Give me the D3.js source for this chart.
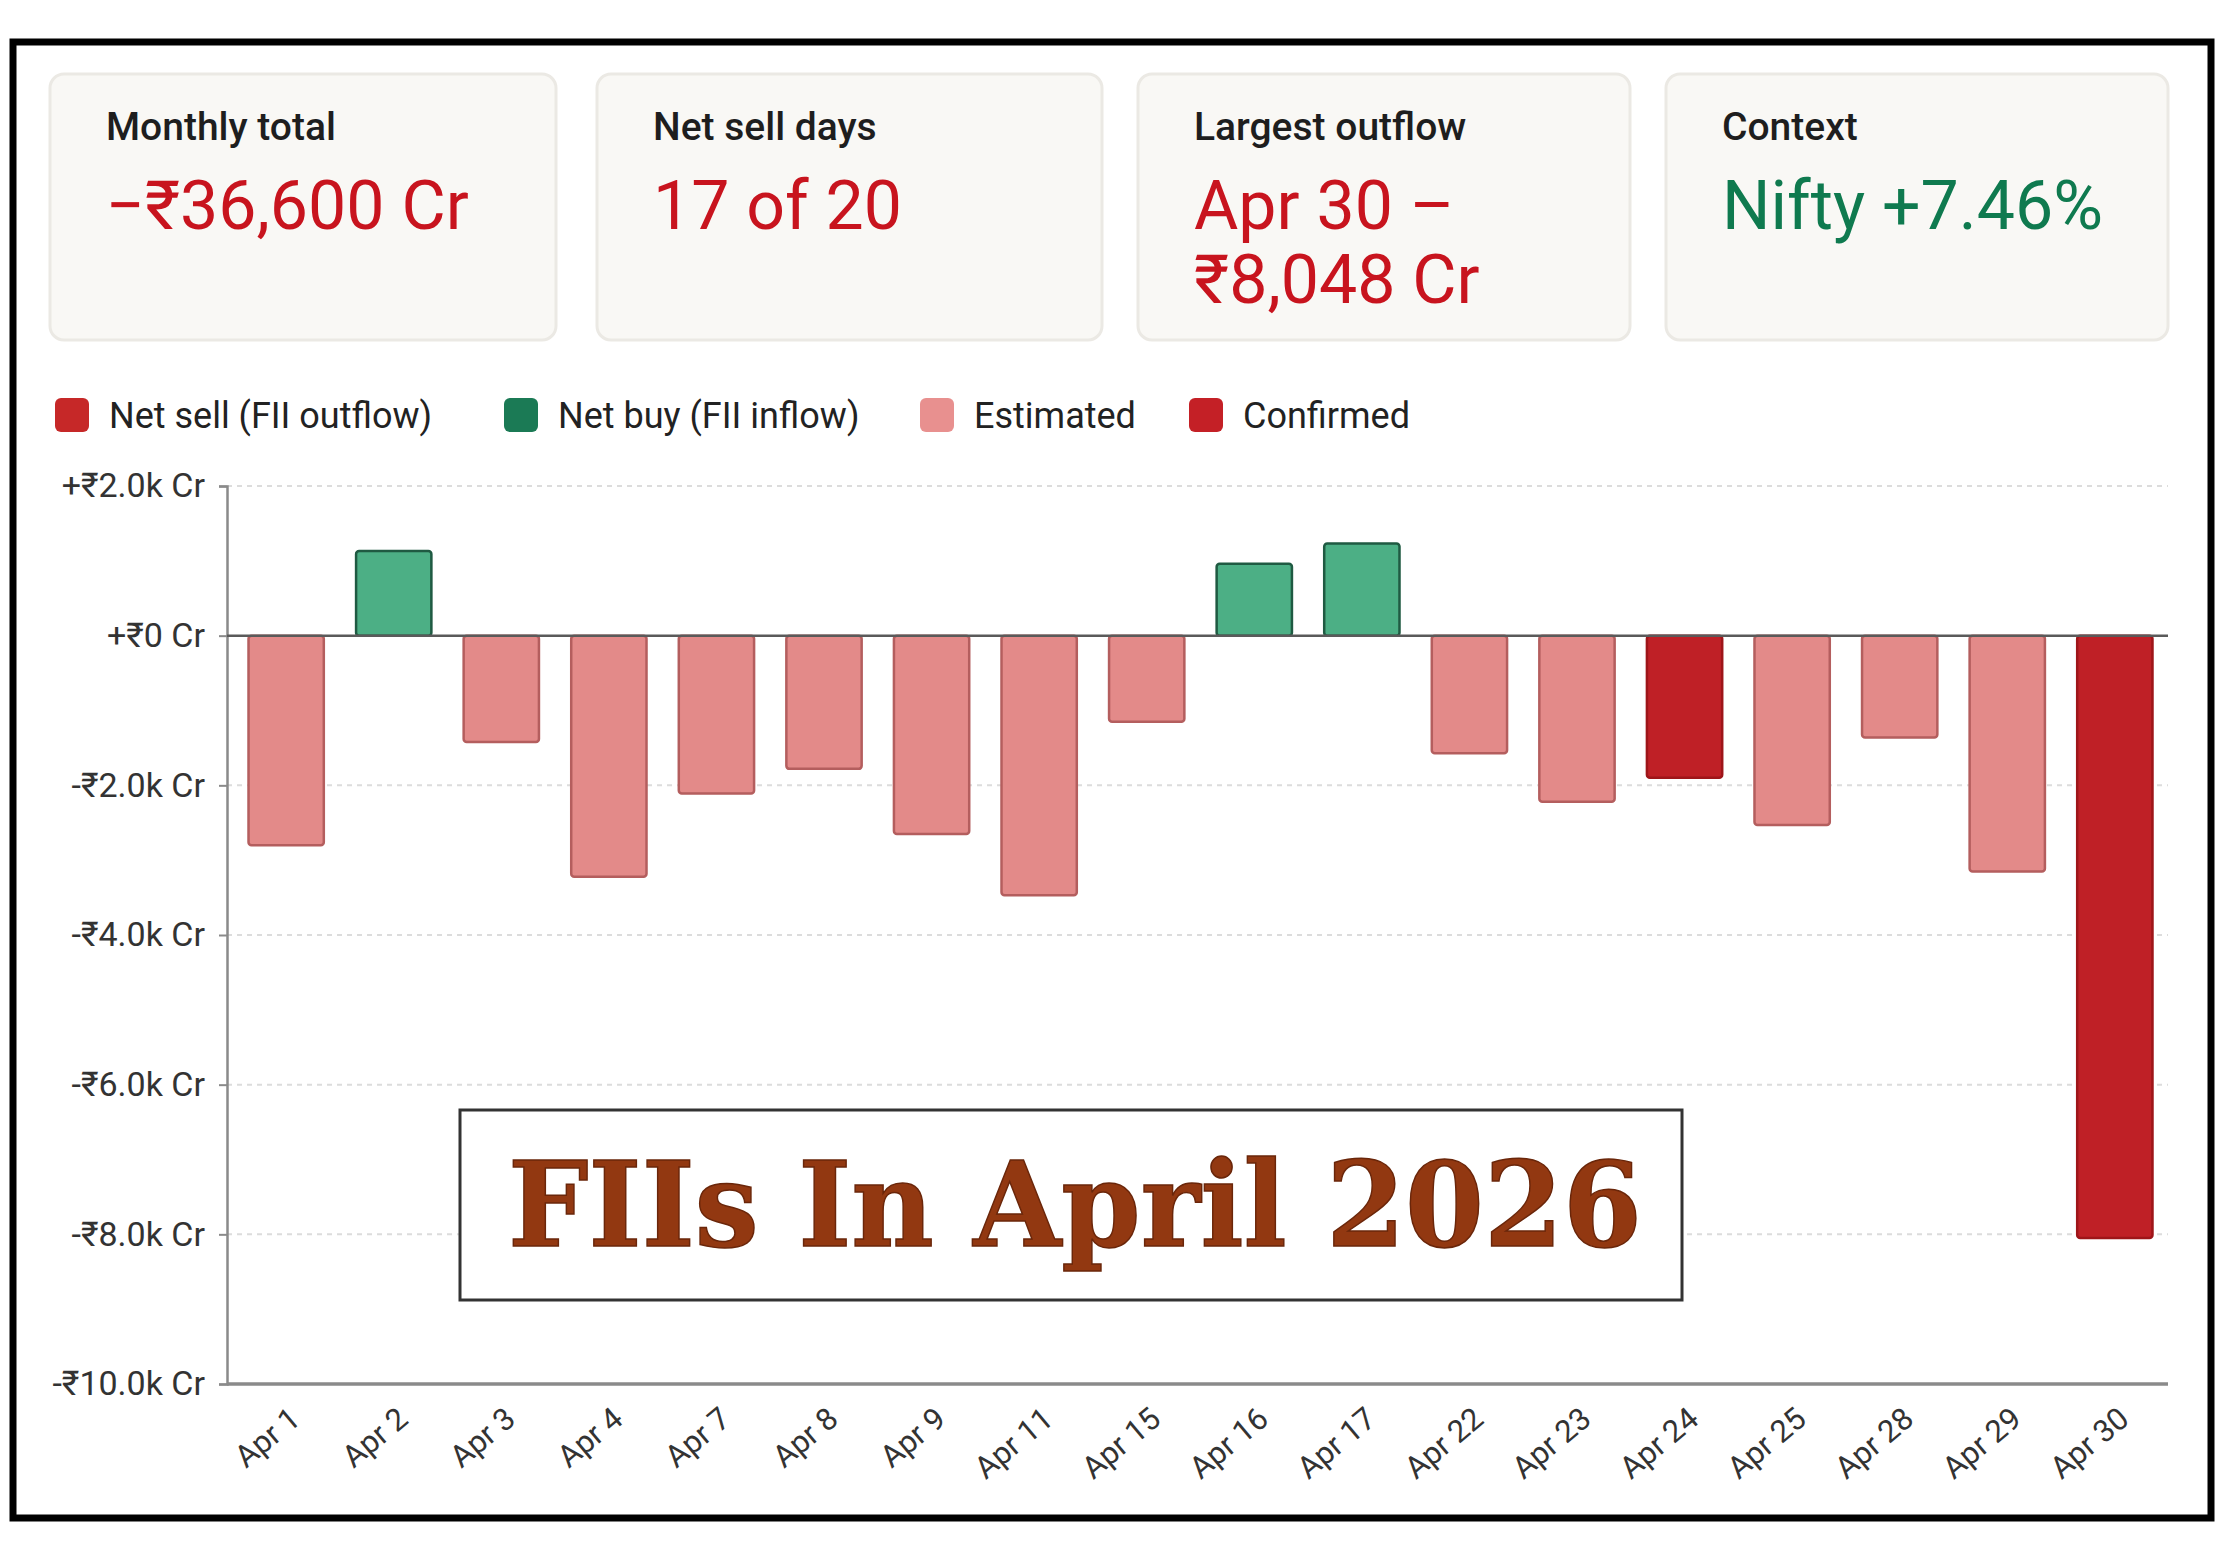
<!DOCTYPE html>
<html>
<head>
<meta charset="utf-8">
<script src="https://cdn.jsdelivr.net/npm/d3@7/dist/d3.min.js"></script>
<style>
  html, body { margin: 0; padding: 0; background: #ffffff; }
  svg { display: block; }
</style>
</head>
<body>
<svg id="chart" width="2240" height="1548"></svg>
<script>
// ---------- DATA ----------
const categories = ["Apr 1","Apr 2","Apr 3","Apr 4","Apr 7","Apr 8","Apr 9","Apr 11","Apr 15","Apr 16","Apr 17","Apr 22","Apr 23","Apr 24","Apr 25","Apr 28","Apr 29","Apr 30"];
const values = [-2800, 1130, -1420, -3220, -2110, -1780, -2650, -3470, -1150, 960, 1230, -1570, -2220, -1900, -2530, -1360, -3150, -8048];
const status = ["est","buy","est","est","est","est","est","est","est","buy","buy","est","est","conf","est","est","est","conf"];
const yTicks = [2000, 0, -2000, -4000, -6000, -8000, -10000];
const yTickLabels = ["+₹2.0k Cr","+₹0 Cr","-₹2.0k Cr","-₹4.0k Cr","-₹6.0k Cr","-₹8.0k Cr","-₹10.0k Cr"];
const cardLabels = ["Monthly total","Net sell days","Largest outflow","Context"];
const cardValues = [["−₹36,600 Cr"],["17 of 20"],["Apr 30 –","₹8,048 Cr"],["Nifty +7.46%"]];
const cardTones = ["neg","neg","neg","pos"];
const legendLabels = ["Net sell (FII outflow)","Net buy (FII inflow)","Estimated","Confirmed"];
const legendKeys = ["sell","buy","est","conf"];
const titleText = "FIIs In April 2026";

// ---------- STYLE ----------
const FONT = "Roboto, 'Noto Sans', sans-serif";
const fillFor = {est:"#e38a89", buy:"#4caf85", conf:"#bf2026"};
const strokeFor = {est:"#b45e5e", buy:"#1f5a42", conf:"#9e1519"};
const legendFill = {sell:"#c62828", buy:"#1b7a55", est:"#e8908f", conf:"#c42026"};
const toneColor = {neg:"#c8141e", pos:"#0f7a4f"};

const svg = d3.select("#chart");

// outer frame
svg.append("rect").attr("x", 13).attr("y", 42).attr("width", 2198).attr("height", 1476)
  .attr("fill", "#ffffff").attr("stroke", "#000").attr("stroke-width", 7);

// ---------- CARDS ----------
const cardX = [50, 597, 1138, 1666];
const cardW = [506, 505, 492, 502];
const cardG = svg.append("g");
cardLabels.forEach((lab, i) => {
  const g = cardG.append("g").attr("transform", `translate(${cardX[i]},74)`);
  g.append("rect").attr("width", cardW[i]).attr("height", 266).attr("rx", 14)
    .attr("fill", "#f9f8f5").attr("stroke", "#ebe9e4").attr("stroke-width", 3);
  g.append("text").attr("x", 56).attr("y", 66).attr("font-family", FONT)
    .attr("font-size", 39).attr("font-weight", 500).attr("fill", "#1e1e1e").text(lab);
  cardValues[i].forEach((line, j) => {
    g.append("text").attr("x", 56).attr("y", 155 + j * 74).attr("font-family", FONT)
      .attr("font-size", 68).attr("font-weight", 400).attr("fill", toneColor[cardTones[i]]).text(line);
  });
});

// ---------- LEGEND ----------
const legendX = [55, 504, 920, 1189];
const legG = svg.append("g");
legendLabels.forEach((lab, i) => {
  legG.append("rect").attr("x", legendX[i]).attr("y", 398).attr("width", 34).attr("height", 34).attr("rx", 6)
    .attr("fill", legendFill[legendKeys[i]]);
  legG.append("text").attr("x", legendX[i] + 54).attr("y", 428).attr("font-family", FONT)
    .attr("font-size", 36).attr("fill", "#222").text(lab);
});

// ---------- CHART ----------
const x = d3.scaleBand().domain(categories).range([227, 2174]).paddingInner(0.3).paddingOuter(0.2);
const y = d3.scaleLinear().domain([-10000, 2000]).range([1384, 486]);
const plotRight = 2168;

// gridlines
svg.append("g").selectAll("line").data(yTicks.filter(v => v !== 0 && v !== -10000)).join("line")
  .attr("x1", 227).attr("x2", plotRight).attr("y1", d => y(d)).attr("y2", d => y(d))
  .attr("stroke", "#dcdcdc").attr("stroke-width", 2).attr("stroke-dasharray", "5,5");

// y axis
const yAxis = d3.axisLeft(y).tickValues(yTicks).tickSize(8).tickPadding(14)
  .tickFormat((d, i) => yTickLabels[i]);
const yg = svg.append("g").attr("transform", "translate(227,0)").call(yAxis);
yg.select(".domain").attr("stroke", "#8a8a8a").attr("stroke-width", 2.5);
yg.selectAll(".tick line").attr("stroke", "#8a8a8a").attr("stroke-width", 2);
yg.selectAll(".tick text").attr("font-family", FONT).attr("font-size", 34).attr("fill", "#333");

// bars
svg.append("g").selectAll("rect").data(categories).join("rect")
  .attr("x", d => x(d))
  .attr("width", x.bandwidth())
  .attr("y", (d, i) => Math.min(y(values[i]), y(0)))
  .attr("height", (d, i) => Math.abs(y(values[i]) - y(0)))
  .attr("rx", 3)
  .attr("fill", (d, i) => fillFor[status[i]])
  .attr("stroke", (d, i) => strokeFor[status[i]])
  .attr("stroke-width", 2.5);

// zero line
svg.append("line").attr("x1", 227).attr("x2", plotRight).attr("y1", y(0)).attr("y2", y(0))
  .attr("stroke", "#5a5a5a").attr("stroke-width", 2.5);

// x axis
const xAxis = d3.axisBottom(x).tickSize(0).tickPadding(0);
const xg = svg.append("g").attr("transform", `translate(0,${y(-10000)})`).call(xAxis);
xg.select(".domain").attr("d", `M227,0H${plotRight}`).attr("stroke", "#8a8a8a").attr("stroke-width", 3.5);
xg.selectAll(".tick text")
  .attr("font-family", FONT).attr("font-size", 31).attr("fill", "#333")
  .attr("text-anchor", "end").attr("dy", 0).attr("y", 0)
  .attr("transform", "translate(16,38) rotate(-40)");

// ---------- TITLE BOX ----------
svg.append("rect").attr("x", 460).attr("y", 1110).attr("width", 1222).attr("height", 190)
  .attr("fill", "#ffffff").attr("stroke", "#333").attr("stroke-width", 3);
svg.append("text").attr("x", 508).attr("y", 1246)
  .attr("font-family", "'DejaVu Serif', serif").attr("font-weight", "bold").attr("font-size", 118)
  .attr("textLength", 1134).attr("lengthAdjust", "spacingAndGlyphs")
  .attr("fill", "#923811").attr("stroke", "#6a260a").attr("stroke-width", 1.5)
  .text(titleText);
</script>
</body>
</html>
